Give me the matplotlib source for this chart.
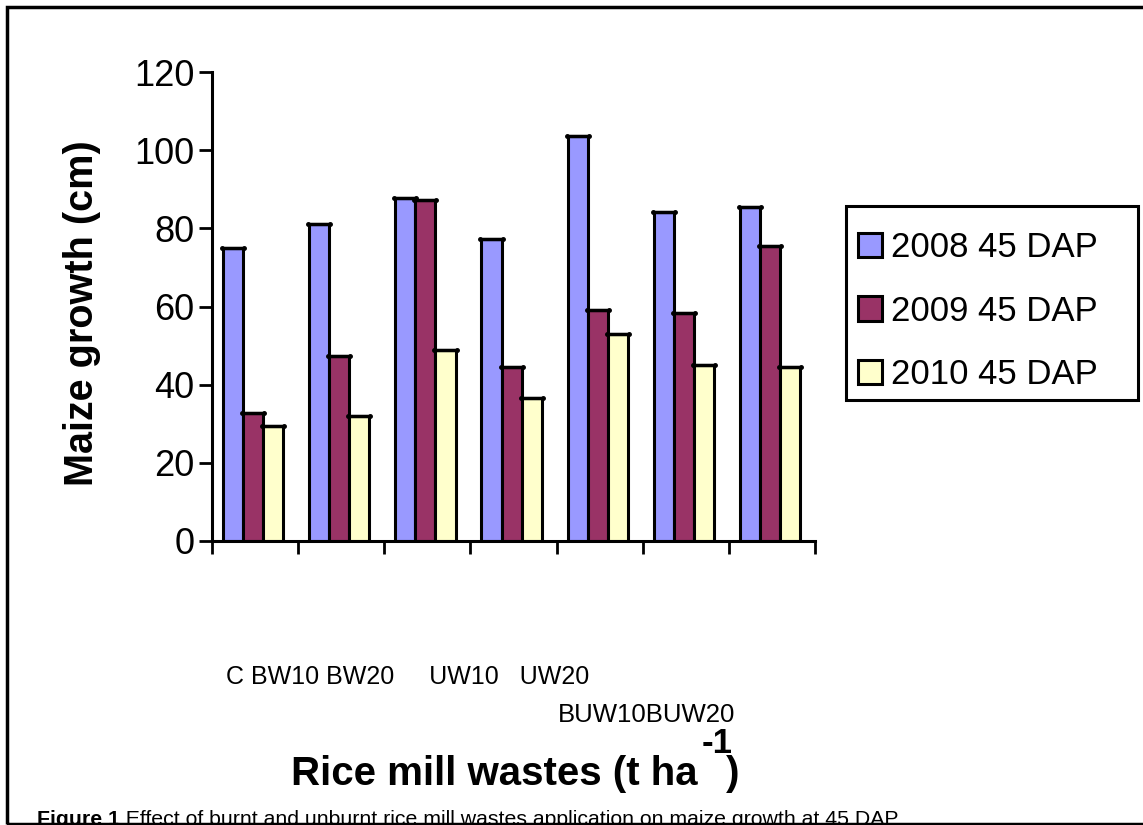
import matplotlib.pyplot as plt
from matplotlib.patches import Rectangle
import numpy as np

plt.rcParams['font.family'] = ['Liberation Sans', 'DejaVu Sans']

categories = ['C', 'BW10', 'BW20', 'UW10', 'UW20', 'BUW10', 'BUW20']
series = ['2008 45 DAP', '2009 45 DAP', '2010 45 DAP']
growth_2008 = [75.0, 81.0, 87.8, 77.2, 103.6, 84.1, 85.5]
growth_2009 = [32.7, 47.4, 87.3, 44.4, 59.1, 58.4, 75.6]
growth_2010 = [29.5, 32.1, 48.9, 36.7, 53.0, 45.1, 44.4]
colors = ['#9999FF', '#993366', '#FFFFCC']

W, H = 1143, 825


def fx(x):
    return x / W


def fy(y):
    return 1 - y / H


fig = plt.figure(figsize=(W / 100, H / 100), dpi=100)
ax = fig.add_axes([fx(212), fy(541), (815 - 212) / W, (541 - 72) / H])

bar_w = 0.233
x = np.arange(len(categories))
for k, (vals, col, lab) in enumerate(zip([growth_2008, growth_2009, growth_2010], colors, series)):
    pos = x + 0.128 + bar_w * (k + 0.5)
    ax.bar(pos, vals, width=bar_w, color=col, edgecolor='black', linewidth=2.2, label=lab, zorder=2)
    # little end caps on the bar tops
    for p, v in zip(pos, vals):
        ax.plot([p - bar_w * 0.55, p + bar_w * 0.55], [v, v], color='black', lw=2.5,
                marker='o', ms=2.5, zorder=3, solid_capstyle='butt')

ax.set_xlim(0, len(categories))
ax.set_ylim(0, 120)
ax.set_yticks(range(0, 121, 20))
ax.set_xticks(range(0, len(categories) + 1))
ax.set_xticklabels([])
ax.tick_params(axis='both', direction='out', length=9.5, width=2, labelsize=26, pad=3)
for s in ['top', 'right']:
    ax.spines[s].set_visible(False)
for s in ['left', 'bottom']:
    ax.spines[s].set_linewidth(2.2)

# category names, laid out the way the original sheet put them
row1 = ' '.join(categories[:3]) + '     ' + categories[3] + '   ' + categories[4]
row2 = categories[5] + categories[6]
fig.text(fx(226), fy(677), row1, fontsize=18, va='center', ha='left')
fig.text(fx(558), fy(715), row2, fontsize=18.5, va='center', ha='left')

fig.text(fx(82), fy(313), 'Maize growth (cm)', rotation=90, fontsize=28.5, fontweight='bold',
         ha='center', va='center')

fig.text(fx(291), fy(785), 'Rice mill wastes (t ha', fontsize=29, fontweight='bold',
         ha='left', va='baseline')
fig.text(fx(702), fy(753), '-1', fontsize=25, fontweight='bold', ha='left', va='baseline')
fig.text(fx(726), fy(785), ')', fontsize=29, fontweight='bold', ha='left', va='baseline')

# legend with its own box
fig.patches.append(Rectangle((fx(846), fy(400)), fx(1138 - 846), (400 - 206) / H,
                             transform=fig.transFigure, fill=False, edgecolor='black',
                             linewidth=2.2))
ax.legend(loc='upper left', bbox_to_anchor=(fx(858), fy(231)), bbox_transform=fig.transFigure,
          frameon=False, fontsize=25, handlelength=0.7, handleheight=0.7, handletextpad=0.25,
          labelspacing=0.88, borderpad=0, borderaxespad=0)

fig.text(fx(37), fy(810), 'Figure 1', fontsize=15.3, fontweight='bold', ha='left', va='top')
fig.text(fx(114), fy(810), '. Effect of burnt and unburnt rice mill wastes application on maize growth at 45 DAP',
         fontsize=15.3, ha='left', va='top')

# outer frame
fig.patches.append(Rectangle((fx(7), fy(824)), fx(W + 20), (824 - 7) / H, transform=fig.transFigure,
                             fill=False, edgecolor='black', linewidth=2.5, zorder=5))

fig.savefig('out.png', dpi=100)
